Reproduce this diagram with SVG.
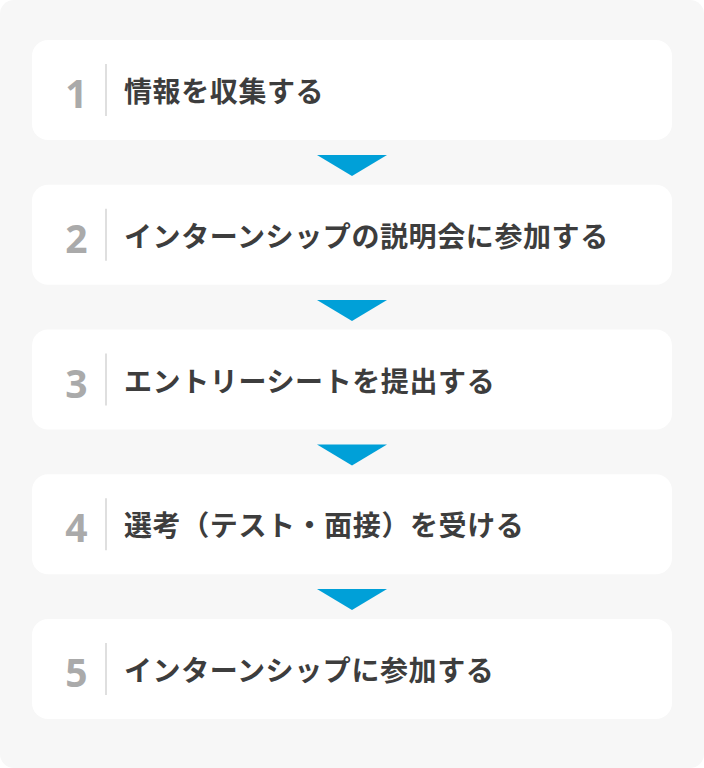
<svg xmlns="http://www.w3.org/2000/svg" width="704" height="768" viewBox="0 0 704 768">
<style>
.box{fill:#ffffff}
.num{font-family:"Open Sans","Noto Sans",sans-serif;font-weight:700;font-size:39px;fill:#aaaaaa}
.div{stroke:#d4d4d4;stroke-width:1.5}
.lbl{font-family:"Noto Sans CJK JP","Noto Sans",sans-serif;font-weight:700;font-size:28px;fill:#3d3d3d;letter-spacing:0.6px}
.arr{fill:#00a0d8}
</style>
<rect x="0" y="0" width="704" height="768" rx="14" fill="#f7f7f7"/>
<g id="connectors">
<polygon class="arr" points="317,155 387,155 352,176"/>
<polygon class="arr" points="317,300 387,300 352,321"/>
<polygon class="arr" points="317,444.5 387,444.5 352,465.5"/>
<polygon class="arr" points="317,589 387,589 352,610"/>
</g>
<g id="step1">
<rect class="box" x="32" y="40" width="640" height="100" rx="16"/>
<text class="num" x="76.5" y="108" text-anchor="middle">1</text>
<line class="div" x1="106" y1="64" x2="106" y2="116"/>
<text class="lbl" x="124" y="102">情報を収集する</text>
</g>
<g id="step2">
<rect class="box" x="32" y="184.75" width="640" height="100" rx="16"/>
<text class="num" x="76.5" y="252.75" text-anchor="middle">2</text>
<line class="div" x1="106" y1="208.75" x2="106" y2="260.75"/>
<text class="lbl" x="124" y="246.75">インターンシップの説明会に参加する</text>
</g>
<g id="step3">
<rect class="box" x="32" y="329.5" width="640" height="100" rx="16"/>
<text class="num" x="76.5" y="397.5" text-anchor="middle">3</text>
<line class="div" x1="106" y1="353.5" x2="106" y2="405.5"/>
<text class="lbl" x="124" y="391.5">エントリーシートを提出する</text>
</g>
<g id="step4">
<rect class="box" x="32" y="474.25" width="640" height="100" rx="16"/>
<text class="num" x="76.5" y="542.25" text-anchor="middle">4</text>
<line class="div" x1="106" y1="498.25" x2="106" y2="550.25"/>
<text class="lbl" x="124" y="536.25">選考（テスト・面接）を受ける</text>
</g>
<g id="step5">
<rect class="box" x="32" y="619" width="640" height="100" rx="16"/>
<text class="num" x="76.5" y="687" text-anchor="middle">5</text>
<line class="div" x1="106" y1="643" x2="106" y2="695"/>
<text class="lbl" x="124" y="681">インターンシップに参加する</text>
</g>
</svg>
